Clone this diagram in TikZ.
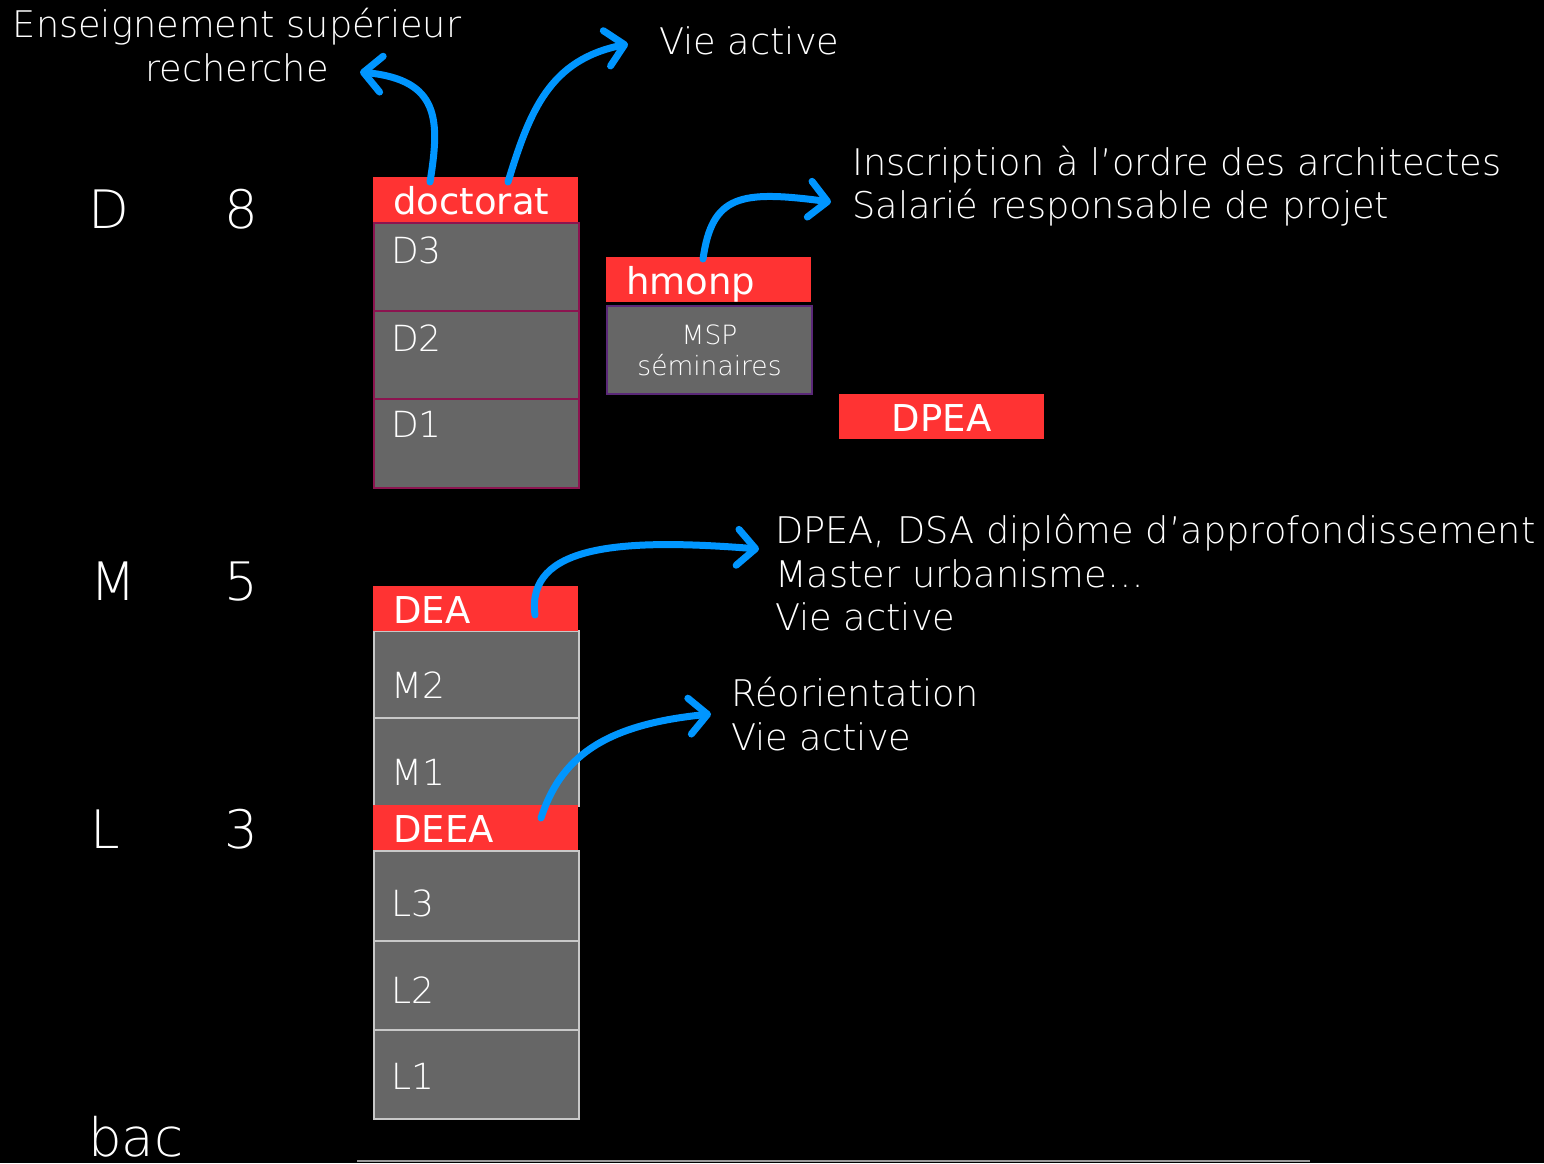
\documentclass[tikz,border=0pt]{standalone}
\usepackage{fontspec}
\setmainfont{DejaVu Sans}
\newfontfamily\thinfont{DejaVu Sans ExtraLight}
\usetikzlibrary{arrows.meta,calc}

\definecolor{slidered}{RGB}{255,51,51}
\definecolor{cellgray}{RGB}{102,102,102}
\definecolor{flowblue}{RGB}{0,150,255}
\definecolor{wine}{RGB}{140,20,80}
\definecolor{plum}{RGB}{90,40,120}
\definecolor{rulegray}{RGB}{200,200,200}

\tikzset{
  tag/.style={fill=slidered, anchor=north west, minimum height=45, inner ysep=0,
    inner xsep=20, text width=165, align=left, text height=30, text depth=0,
    text=white, font=\fontsize{37}{37}\selectfont},
  cell/.style={fill=cellgray, line width=2, anchor=north west, minimum width=205,
    inner sep=0},
  celltext/.style={anchor=west, inner sep=0, text=white,
    font=\thinfont\fontsize{36}{36}\selectfont},
  lvl/.style={anchor=base west, inner sep=0, text=white,
    font=\thinfont\fontsize{53}{53}\selectfont},
  note/.style={inner sep=0, text=white, align=left,
    font=\thinfont\fontsize{36.7}{43.5}\selectfont},
  flow/.style={draw=flowblue, line width=7, line cap=round,
    -{Straight Barb[length=18pt,width=36pt,round]}},
  ground/.style={draw=gray!80, line width=2}
}

\begin{document}
\begin{tikzpicture}[x=1pt,y=-1pt]
    \fill[black] (0,0) rectangle (1544,1163);
    \useasboundingbox (0,0) rectangle (1544,1163);

    % levels
    \foreach \n/\x/\y/\s in {lD/88/228/D, n8/224/228/8, lM/90/600/M, n5/224/600/5,
        lL/90/848/L, n3/224/848/3, bac/88/1156/bac}{
        \node[lvl] (\n) at (\x,\y) {\s};
    }

    % doctorat column
    \foreach \n/\t/\b/\ly/\s in {d3/222/310/250/D3, d2/310/398/338/D2, d1/398/487/424/D1}{
        \node[cell, draw=wine, minimum height=\b-\t] (\n) at (373,\t) {};
        \node[celltext] (\n-t) at (391,\ly) {\s};
    }
    \node[tag] (doc) at (373,177) {doctorat};

    % master / licence column
    \foreach \n/\t/\b/\ly/\s in {m2/630/717/685/M2, m1/717/805/772/M1,
        l3/850/940/903/L3, l2/940/1029/990/L2, l1/1029/1118/1076/L1}{
        \node[cell, draw=rulegray, minimum height=\b-\t] (\n) at (373,\t) {};
        \node[celltext] (\n-t) at (391,\ly) {\s};
    }
    \node[tag] (dea) at (373,586) {DEA};
    \node[tag] (deea) at (373,805) {DEEA};

    % hmonp, dpea
    \node[cell, draw=plum, minimum height=88, align=center, text=white,
        font=\thinfont\fontsize{26.5}{31}\selectfont] (msp) at (606,305) {MSP\\séminaires};
    \node[tag] (hmonp) at (606,257) {hmonp};
    \node[tag, align=center] (dpea) at (839,394) {DPEA};

    % outcomes
    \node[note, align=center] (ens) at (237,45) {Enseignement supérieur\\recherche};
    \node[note, anchor=west] (vie) at (659,41) {Vie active};
    \node[note, anchor=west] (insc) at (852,186)
        {Inscription à l’ordre des architectes\\Salarié responsable de projet};
    \node[note, anchor=west] (dsa) at (775,573)
        {DPEA, DSA diplôme d’approfondissement\\Master urbanisme…\\Vie active};
    \node[note, anchor=west] (reo) at (731,714) {Réorientation\\Vie active};

    \coordinate (ens-in) at (360,72);
    \coordinate (vie-in) at (628,44);
    \coordinate (insc-in) at (831,202);
    \coordinate (dsa-in) at (759,549);
    \coordinate (reo-in) at (711,714);

    \draw[flow] ($(doc.north west)+(57,5)$) .. controls (440,120) and (440,80) .. (ens-in);
    \draw[flow] ($(doc.north west)+(135,5)$) .. controls (530,110) and (550,60) .. (vie-in);
    \draw[flow] ($(hmonp.north west)+(97,2)$) .. controls (712,195) and (740,190) .. (insc-in);
    \draw[flow] ($(dea.north west)+(162,29)$) .. controls (526,545) and (620,538) .. (dsa-in);
    \draw[flow] ($(deea.north west)+(168,13)$) .. controls (560,760) and (600,725) .. (reo-in);

    \coordinate (g1) at (357,1161);
    \coordinate (g2) at (1310,1161);
    \draw[ground] (g1) -- (g2);
\end{tikzpicture}
\end{document}
